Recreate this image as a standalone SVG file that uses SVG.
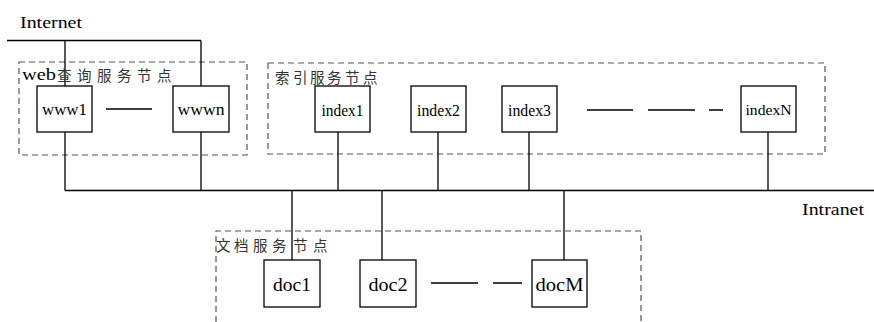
<svg xmlns="http://www.w3.org/2000/svg" width="874" height="322" viewBox="0 0 874 322">
<style>
.bg{fill:#fff}
.box{fill:#fff;stroke:#000;stroke-width:1.3}
.ln{fill:none;stroke:#000;stroke-width:1.3}
.grp{fill:none;stroke:#555;stroke-width:1.2;stroke-dasharray:6 4}
.t{font-family:"Liberation Serif","Times New Roman",serif;fill:#000}
.cjk{font-family:"Noto Sans CJK SC",sans-serif;font-size:14.5px;fill:#333}
</style>
<rect class="bg" x="0" y="0" width="874" height="322"/>
<g id="groups">
<rect class="grp" x="19" y="62" width="228" height="93"/>
<rect class="grp" x="268" y="63" width="557" height="91"/>
<path class="grp" d="M216,322 V231 H641 V322"/>
</g>
<g id="connectors">
<path class="ln" d="M7,40.5 H201"/>
<path class="ln" d="M65,40.5 V86 M201,40.5 V86"/>
<path class="ln" d="M65,132 V190.5 M201,132 V190.5"/>
<path class="ln" d="M65,190.5 H874"/>
<path class="ln" d="M338,132 V190.5 M438,132 V190.5 M529,132 V190.5 M768,132 V190.5"/>
<path class="ln" d="M292,190.5 V260 M382,190.5 V260 M564,190.5 V260"/>
<path class="ln" d="M106,109 H152"/>
<path class="ln" d="M587,110 H633 M648,110 H695 M709,110 H723"/>
<path class="ln" d="M431,283 H478 M493,283 H522"/>
</g>
<g id="labels">
<text class="t" x="20" y="28" font-size="17" textLength="62" lengthAdjust="spacingAndGlyphs">Internet</text>
<text class="t" x="802" y="215" font-size="17" textLength="62" lengthAdjust="spacingAndGlyphs">Intranet</text>
<text class="t" x="22" y="80" font-size="17" textLength="34" lengthAdjust="spacingAndGlyphs">web</text>
<text class="cjk" x="57 77 97 117 137 157" y="81">查询服务节点</text>
<text class="cjk" x="275 293 310 327 345 363" y="83">索引服务节点</text>
<text class="cjk" x="216 234 253 272 293 313" y="251">文档服务节点</text>
</g>
<g id="www1">
<rect class="box" x="37" y="86" width="55" height="46"/>
<text class="t" x="64.5" y="115" font-size="17" text-anchor="middle" textLength="45" lengthAdjust="spacingAndGlyphs">www1</text>
</g>
<g id="wwwn">
<rect class="box" x="173" y="86" width="56" height="46"/>
<text class="t" x="201" y="115" font-size="17" text-anchor="middle" textLength="47" lengthAdjust="spacingAndGlyphs">wwwn</text>
</g>
<g id="index1">
<rect class="box" x="315" y="86" width="55" height="46"/>
<text class="t" x="342.5" y="116" font-size="17" text-anchor="middle" textLength="42" lengthAdjust="spacingAndGlyphs">index1</text>
</g>
<g id="index2">
<rect class="box" x="411" y="86" width="55" height="46"/>
<text class="t" x="438.5" y="116" font-size="17" text-anchor="middle" textLength="43" lengthAdjust="spacingAndGlyphs">index2</text>
</g>
<g id="index3">
<rect class="box" x="502" y="86" width="55" height="46"/>
<text class="t" x="529.5" y="116" font-size="17" text-anchor="middle" textLength="43" lengthAdjust="spacingAndGlyphs">index3</text>
</g>
<g id="indexN">
<rect class="box" x="741" y="86" width="55" height="46"/>
<text class="t" x="768.5" y="115" font-size="14" text-anchor="middle" textLength="46" lengthAdjust="spacingAndGlyphs">indexN</text>
</g>
<g id="doc1">
<rect class="box" x="264" y="260" width="56" height="47"/>
<text class="t" x="292" y="291" font-size="19" text-anchor="middle" textLength="38" lengthAdjust="spacingAndGlyphs">doc1</text>
</g>
<g id="doc2">
<rect class="box" x="360" y="260" width="56" height="47"/>
<text class="t" x="388" y="291" font-size="19" text-anchor="middle" textLength="39" lengthAdjust="spacingAndGlyphs">doc2</text>
</g>
<g id="docM">
<rect class="box" x="532" y="260" width="55" height="47"/>
<text class="t" x="559.5" y="291" font-size="19" text-anchor="middle" textLength="48" lengthAdjust="spacingAndGlyphs">docM</text>
</g>
</svg>
